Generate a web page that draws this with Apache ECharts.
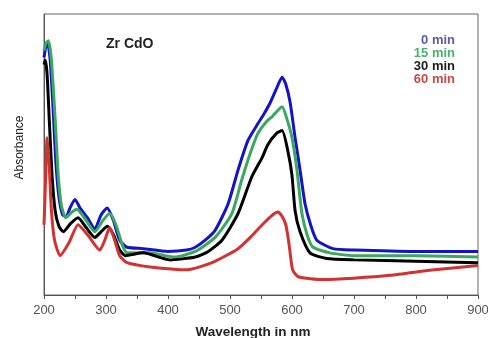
<!DOCTYPE html>
<html><head><meta charset="utf-8">
<script src="https://cdn.jsdelivr.net/npm/echarts@6/dist/echarts.min.js"></script>
<style>html,body{margin:0;padding:0;background:#fff}#c{width:488px;height:338px}</style>
</head><body><div id="c"></div>
<script>
var seriesNames = ['0 min', '15 min', '30 min', '60 min'];
var xTicks = [200, 300, 400, 500, 600, 700, 800, 900];

var blue0 = [[200,1.69],[203,1.77],[206,1.79],[210,1.67],[215,1.30],[219,0.95],[224,0.70],[230,0.57],[236,0.56],[242,0.62],[250,0.68],[258,0.62],[270,0.55],[282,0.47],[292,0.57],[302,0.62],[312,0.53],[322,0.39],[334,0.34],[360,0.33],[400,0.31],[430,0.32],[444,0.34],[460,0.39],[476,0.46],[497,0.65],[513,0.89],[529,1.10],[545,1.22],[555,1.29],[565,1.37],[576,1.48],[584,1.55],[590,1.50],[597,1.37],[605,1.12],[613,0.89],[621,0.65],[630,0.50],[640,0.39],[666,0.33],[700,0.32],[800,0.31],[900,0.31]];
var green15 = [[200,1.74],[203,1.79],[207,1.81],[212,1.67],[218,1.25],[223,0.85],[228,0.64],[235,0.55],[245,0.59],[253,0.61],[265,0.55],[282,0.45],[295,0.53],[306,0.58],[316,0.50],[326,0.36],[334,0.30],[370,0.30],[410,0.27],[444,0.31],[476,0.41],[503,0.58],[519,0.82],[532,1.00],[545,1.15],[558,1.23],[568,1.27],[584,1.34],[592,1.25],[600,1.12],[608,0.89],[616,0.58],[625,0.42],[634,0.34],[661,0.30],[700,0.28],[800,0.28],[900,0.27]];
var black30 = [[200,1.64],[202,1.67],[205,1.57],[209,1.20],[213,0.85],[218,0.60],[224,0.49],[231,0.45],[243,0.51],[255,0.55],[268,0.48],[282,0.41],[292,0.45],[302,0.49],[312,0.43],[322,0.32],[331,0.28],[360,0.30],[403,0.25],[444,0.27],[465,0.31],[487,0.39],[513,0.58],[535,0.84],[552,0.98],[561,1.07],[575,1.15],[584,1.17],[594,1.01],[600,0.85],[605,0.60],[613,0.45],[629,0.30],[656,0.26],[700,0.25],[800,0.24],[900,0.23]];
var red60 = [[200,0.50],[202,0.75],[205,1.12],[208,0.96],[212,0.60],[217,0.39],[226,0.28],[240,0.37],[255,0.50],[270,0.43],[290,0.32],[298,0.39],[306,0.48],[314,0.39],[322,0.28],[334,0.23],[371,0.20],[431,0.18],[471,0.23],[513,0.33],[535,0.42],[552,0.50],[566,0.56],[577,0.59],[584,0.56],[590,0.50],[594,0.40],[597,0.30],[601,0.18],[610,0.13],[650,0.11],[700,0.12],[758,0.14],[830,0.18],[900,0.21]];

var lineColors = ['#1414c4', '#3aa860', '#000000', '#d23232'];
var textColors = ['#5b5ba8', '#4fae6e', '#1a1a1a', '#cc4848'];
var dataSets = [blue0, green15, black30, red60];

var chart = echarts.init(document.getElementById('c'), null, {renderer: 'canvas'});
var series = [];
var order = [3, 2, 0, 1];
order.forEach(function (i) {
  series.push({
    name: seriesNames[i], type: 'line', data: dataSets[i], showSymbol: false,
    smooth: 0.2, lineStyle: {color: lineColors[i], width: 3}, itemStyle: {color: lineColors[i]},
    z: 2 + i
  });
});
chart.setOption({
  animation: false,
  backgroundColor: '#fff',
  title: {text: 'Zr CdO', left: 106, top: 37, padding: 0, textStyle: {fontFamily: 'Liberation Sans, Arial', fontSize: 14, fontWeight: 'bold', color: '#222'}},
  legend: {
    orient: 'vertical', right: 28, top: 34, padding: 0, itemGap: 0, itemWidth: 0, itemHeight: 0, icon: 'none', align: 'right',
    selectedMode: false,
    data: seriesNames.map(function (n, i) { return {name: n, icon: 'none', textStyle: {color: textColors[i], fontWeight: 'bold', fontSize: 13, lineHeight: 13, fontFamily: 'Liberation Sans, Arial'}}; })
  },
  grid: {left: 44, right: 10, top: 14, bottom: 43, outerBoundsMode: 'none', containLabel: false, show: true, borderColor: '#666', borderWidth: 1},
  xAxis: {
    type: 'value', min: 200, max: 900, interval: 100,
    name: 'Wavelength in nm', nameLocation: 'middle', nameGap: 30,
    nameTextStyle: {fontFamily: 'Liberation Sans, Arial', fontSize: 13.5, fontWeight: 'bold', color: '#222', padding: [0, 16, 0, 0]},
    axisLine: {show: true, lineStyle: {color: '#555', width: 1}},
    axisTick: {show: true, inside: false, length: 4, lineStyle: {color: '#555'}},
    minorTick: {show: true, splitNumber: 2, length: 4, lineStyle: {color: '#555'}},
    axisLabel: {fontFamily: 'Liberation Sans, Arial', fontSize: 13, color: '#555', margin: 9, customValues: xTicks},
    splitLine: {show: false}
  },
  yAxis: {
    type: 'value', min: 0, max: 2,
    name: 'Absorbance', nameLocation: 'middle', nameGap: 18,
    nameTextStyle: {fontFamily: 'Liberation Sans, Arial', fontSize: 12, color: '#222', padding: [0, 0, 0, 14]},
    axisLine: {show: true, lineStyle: {color: '#555', width: 1}},
    axisTick: {show: false}, axisLabel: {show: false}, splitLine: {show: false}
  },
  series: series
});
</script></body></html>
